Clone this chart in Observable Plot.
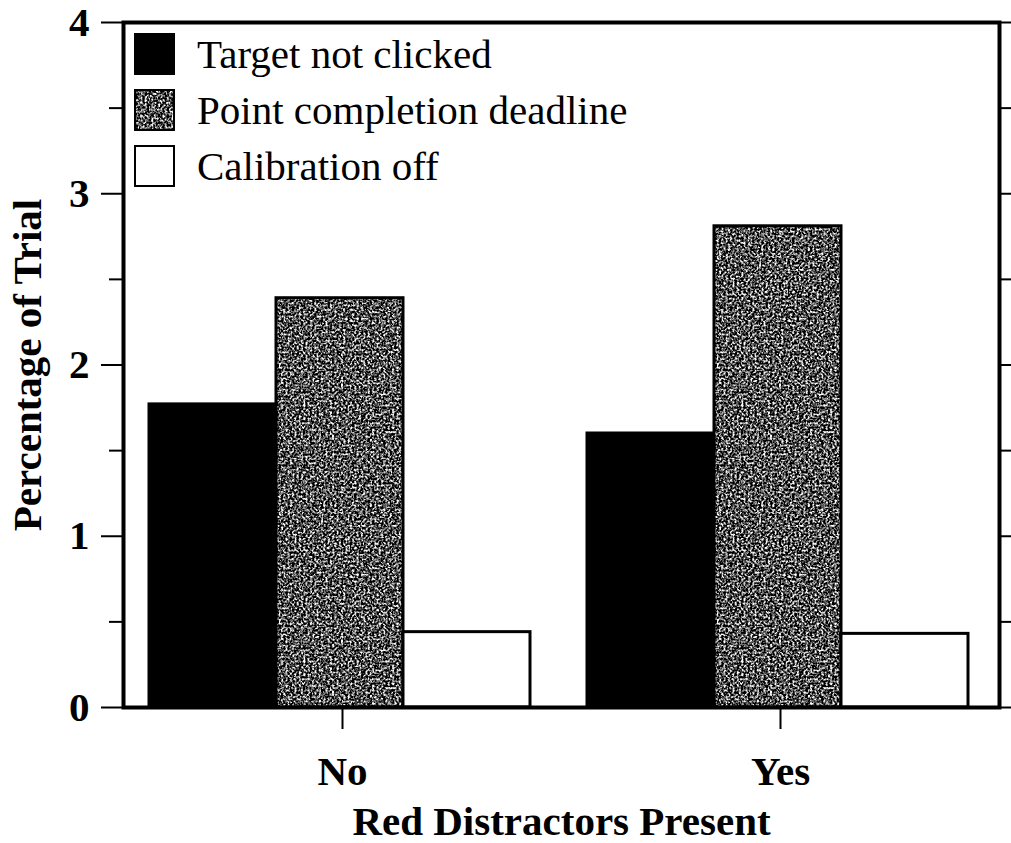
<!DOCTYPE html>
<html>
<head>
<meta charset="utf-8">
<script src="https://cdn.jsdelivr.net/npm/d3@7"></script>
<script src="https://cdn.jsdelivr.net/npm/@observablehq/plot@0.6"></script>
<style>
  html, body { margin: 0; padding: 0; background: white; }
  #wrap { position: relative; width: 1011px; height: 843px; }
  #legend { position: absolute; left: 134px; top: 33px; font-family: "Liberation Serif", "Times New Roman", serif; font-size: 41px; font-weight: normal; color: black; }
  .row { display: flex; align-items: center; height: 42px; margin-bottom: 14px; }
  .row svg { display: block; margin-right: 22px; }
  .row span { line-height: 42px; white-space: nowrap; }
</style>
</head>
<body>
<svg width="0" height="0" style="position:absolute">
  <defs>
    <filter id="grain" x="0" y="0" width="1" height="1" filterUnits="objectBoundingBox" color-interpolation-filters="sRGB">
      <feTurbulence type="fractalNoise" baseFrequency="0.45" numOctaves="2" seed="7"/>
      <feColorMatrix type="saturate" values="0"/>
      <feComponentTransfer>
        <feFuncR type="linear" slope="4" intercept="-1.68"/>
        <feFuncG type="linear" slope="4" intercept="-1.68"/>
        <feFuncB type="linear" slope="4" intercept="-1.68"/>
        <feFuncA type="linear" slope="0" intercept="1"/>
      </feComponentTransfer>
    </filter>
    <pattern id="speckle" patternUnits="userSpaceOnUse" width="256" height="256">
      <rect width="256" height="256" fill="#666" filter="url(#grain)"/>
    </pattern>
  </defs>
</svg>
<div id="wrap"><div id="legend"></div></div>
<script>
const groups = ["No", "Yes"];
const series = ["Target not clicked", "Point completion deadline", "Calibration off"];
const valuesNo = [1.77, 2.39, 0.44];
const valuesYes = [1.60, 2.81, 0.43];
const yMajorTicks = [0, 1, 2, 3, 4];
const yMinorTicks = [0.5, 1.5, 2.5, 3.5];
const yAllTicks = [0, 0.5, 1, 1.5, 2, 2.5, 3, 3.5, 4];
const seriesFills = ["black", "url(#speckle)", "white"];
const yLabel = "Percentage of Trial";
const xLabel = "Red Distractors Present";

const table = [];
groups.forEach((g, gi) => {
  const vals = gi === 0 ? valuesNo : valuesYes;
  series.forEach((s, si) => table.push({group: g, series: s, value: vals[si]}));
});

const chart = Plot.plot({
  width: 1011,
  height: 843,
  marginLeft: 122,
  marginRight: 12,
  marginTop: 22,
  marginBottom: 136,
  style: {fontFamily: "'Liberation Serif', 'Times New Roman', serif", fontSize: "41px", fontWeight: "bold", color: "black", background: "white", overflow: "visible"},
  fx: {domain: groups, padding: 0},
  x: {domain: series, paddingInner: 0, paddingOuter: 0.22, align: 0.45, axis: null},
  y: {domain: [0, 4], axis: null},
  color: {domain: series, range: seriesFills},
  marks: [
    Plot.barY(table, {fx: "group", x: "series", y: "value", fill: "series", stroke: "black", strokeWidth: 3}),
    Plot.axisY({anchor: "left", ticks: yMajorTicks, tickSize: 22, tickPadding: 12, strokeWidth: 2, tickFormat: d3.format("d"),
      label: yLabel, labelAnchor: "center", labelOffset: 112, labelArrow: "none"}),
    Plot.axisY({anchor: "left", ticks: yMinorTicks, tickSize: 14, strokeWidth: 2, tickFormat: () => "", label: null}),
    Plot.axisY({anchor: "right", ticks: yAllTicks, tickSize: 11, strokeWidth: 2, tickFormat: () => "", label: null}),
    Plot.axisFx({anchor: "bottom", tickSize: 22, tickPadding: 26, strokeWidth: 2,
      label: xLabel, labelAnchor: "center", labelOffset: 127, labelArrow: "none"}),
    Plot.frame({facet: "super", stroke: "black", strokeWidth: 4})
  ]
});
document.getElementById("wrap").prepend(chart);

const legend = document.getElementById("legend");
series.forEach((s, i) => {
  const row = document.createElement("div");
  row.className = "row";
  row.innerHTML = `<svg width="41" height="42"><rect x="1" y="1" width="39" height="40" fill="${seriesFills[i]}" stroke="black" stroke-width="2"/></svg><span>${s}</span>`;
  legend.appendChild(row);
});
</script>
</body>
</html>
